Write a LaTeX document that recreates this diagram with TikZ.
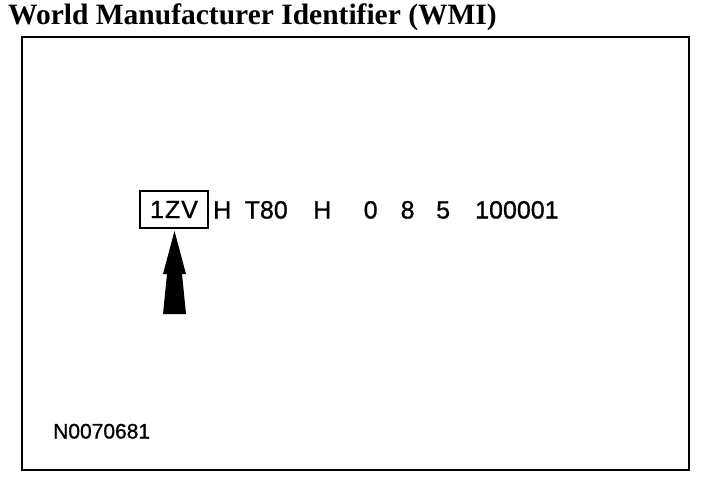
\documentclass[tikz,border=0pt]{standalone}
\usepackage{fontspec}
\setmainfont{Liberation Serif}
\newfontfamily\arialfont[FakeBold=1]{Liberation Sans}
\usetikzlibrary{positioning}

\tikzset{
  vinchar/.style={anchor=base west, inner sep=0pt, font=\arialfont\fontsize{25}{28}\selectfont},
}

\begin{document}
\begin{tikzpicture}[x=1pt, y=-1pt]
  \useasboundingbox (0,0) rectangle (704,492);
  \node[anchor=base west, inner sep=0pt, font=\bfseries\fontsize{29.5}{32}\selectfont] (title) at (8,25) {World Manufacturer Identifier (WMI)};
  \draw[line width=2pt] (22,37) rectangle (689,470);
  \node[draw, line width=2pt, inner sep=0pt, minimum width=68pt, minimum height=37pt, font=\arialfont\fontsize{25}{28}\selectfont] (wmi) at (174,209.5) {1\kern1pt Z\kern1pt V};
  \foreach \x/\t [count=\i] in {213/H, 244.5/T80, 313/H, 363.5/0, 400.5/8, 436/5, 475/100001}
    \node[vinchar] (tok\i) at (\x,218.5) {\t};
  % pointer under the WMI box
  \fill (174.5,231) -- (186,274) -- (182,274) -- (186,314) -- (163,314) -- (167,274) -- (163,274) -- cycle;
  \node[anchor=base west, inner sep=0pt, font=\arialfont\fontsize{21}{24}\selectfont] (fig) at (53,438.5) {N0070681};
\end{tikzpicture}
\end{document}
